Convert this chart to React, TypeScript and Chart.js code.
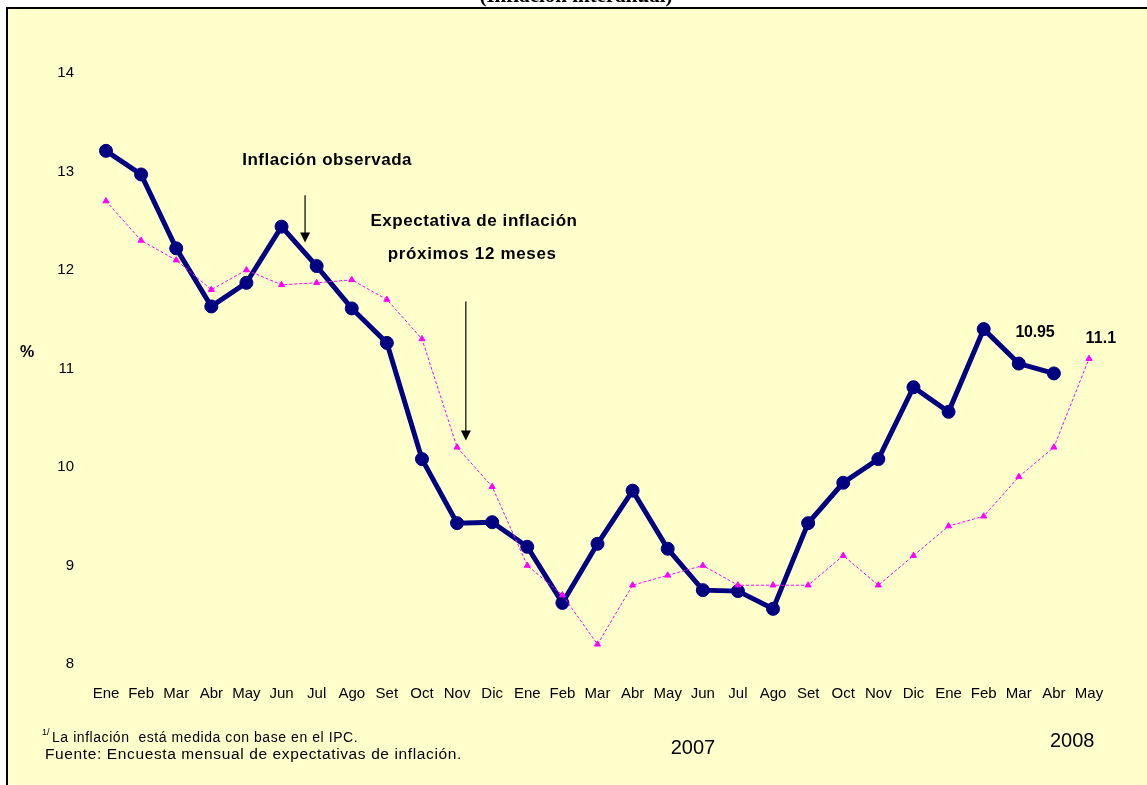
import React, { useEffect, useRef } from "react";
import { Chart, registerables } from "chart.js";

Chart.register(...registerables);

const W = 1147;
const H = 785;

const months = [
  "Ene", "Feb", "Mar", "Abr", "May", "Jun", "Jul", "Ago", "Set", "Oct", "Nov", "Dic",
  "Ene", "Feb", "Mar", "Abr", "May", "Jun", "Jul", "Ago", "Set", "Oct", "Nov", "Dic",
  "Ene", "Feb", "Mar", "Abr", "May",
];

const observed: (number | null)[] = [
  13.21, 12.97, 12.22, 11.63, 11.87, 12.44, 12.04, 11.61, 11.26, 10.08, 9.43, 9.44,
  9.19, 8.62, 9.22, 9.76, 9.17, 8.75, 8.74, 8.56, 9.43, 9.84, 10.08, 10.81,
  10.56, 11.4, 11.05, 10.95, null,
];

const expected: number[] = [
  12.7, 12.3, 12.1, 11.8, 12.0, 11.85, 11.87, 11.9, 11.7, 11.3, 10.2, 9.8,
  9.0, 8.7, 8.2, 8.8, 8.9, 9.0, 8.8, 8.8, 8.8, 9.1, 8.8, 9.1,
  9.4, 9.5, 9.9, 10.2, 11.1,
];

const yMin = 8;
const yMax = 14;

const titleText = "(Inflación interanual)";
const observedLabel = "Inflación observada";
const expectedLabel1 = "Expectativa de inflación";
const expectedLabel2 = "próximos 12 meses";
const lastObservedLabel = "10.95";
const lastExpectedLabel = "11.1";
const yearLabels = ["2007", "2008"];
const footnote1 = "La inflación  está medida con base en el IPC.";
const footnote2 = "Fuente: Encuesta mensual de expectativas de inflación.";

const SANS = "'Liberation Sans', Arial, sans-serif";

function fitText(
  ctx: CanvasRenderingContext2D,
  text: string,
  cx: number,
  cy: number,
  width: number,
  font: string
) {
  ctx.font = font;
  (ctx as any).letterSpacing = "0px";
  const w = ctx.measureText(text).width;
  const ls = (width - w) / Math.max(1, text.length);
  (ctx as any).letterSpacing = ls.toFixed(2) + "px";
  ctx.textAlign = "left";
  ctx.textBaseline = "middle";
  ctx.fillText(text, cx - width / 2, cy);
  (ctx as any).letterSpacing = "0px";
}

function arrow(ctx: CanvasRenderingContext2D, x: number, y1: number, y2: number) {
  ctx.beginPath();
  ctx.moveTo(x, y1);
  ctx.lineTo(x, y2 - 8);
  ctx.lineWidth = 1.2;
  ctx.strokeStyle = "#000";
  ctx.stroke();
  ctx.beginPath();
  ctx.moveTo(x - 5, y2 - 10);
  ctx.lineTo(x + 5, y2 - 10);
  ctx.lineTo(x, y2);
  ctx.closePath();
  ctx.fillStyle = "#000";
  ctx.fill();
}

const decor = {
  id: "decor",
  beforeDraw(chart: any) {
    const ctx: CanvasRenderingContext2D = chart.ctx;
    ctx.save();
    ctx.fillStyle = "#ffffff";
    ctx.fillRect(0, 0, W, H);
    ctx.fillStyle = "#FFFFCC";
    ctx.fillRect(7, 8, W, H);
    ctx.strokeStyle = "#000";
    ctx.lineWidth = 2;
    ctx.strokeRect(7, 8, W + 20, H + 20);
    ctx.fillStyle = "#000";
    ctx.font = "bold 21px 'Liberation Serif', 'Times New Roman', serif";
    ctx.textAlign = "center";
    ctx.textBaseline = "alphabetic";
    ctx.fillText(titleText, 576, 2);
    ctx.restore();
  },
  afterDatasetsDraw(chart: any) {
    const ctx: CanvasRenderingContext2D = chart.ctx;
    const xs = chart.scales.x;
    const ys = chart.scales.y;
    const px = (i: number) => xs.getPixelForValue(i);
    const py = (v: number) => ys.getPixelForValue(v);
    ctx.save();
    ctx.fillStyle = "#000";
    const bold = `bold 17px ${SANS}`;
    fitText(ctx, observedLabel, px(6.3), py(13.11), 170, bold);
    arrow(ctx, px(5.67), py(12.76), py(12.28));
    fitText(ctx, expectedLabel1, px(10.48), py(12.49), 207, bold);
    fitText(ctx, expectedLabel2, px(10.43), py(12.16), 169, bold);
    arrow(ctx, px(10.25), py(11.68), py(10.27));
    fitText(ctx, lastObservedLabel, px(26.46), py(11.36), 39, `bold 16px ${SANS}`);
    fitText(ctx, lastExpectedLabel, px(28.34), py(11.3), 31, `bold 16px ${SANS}`);

    // axis unit
    ctx.fillStyle = "#000";
    ctx.font = `bold 16px ${SANS}`;
    ctx.textAlign = "center";
    ctx.textBaseline = "middle";
    ctx.fillText("%", 27, py(11.16));

    // years
    ctx.font = `20px ${SANS}`;
    ctx.fillText(yearLabels[0], px(16.72), 748);
    ctx.fillText(yearLabels[1], px(27.52), 741);

    // footnotes
    ctx.font = `9px ${SANS}`;
    ctx.textAlign = "left";
    ctx.fillText("1/", 42, 733);
    fitText(ctx, footnote1, 52 + 153, 738, 306, `14px ${SANS}`);
    fitText(ctx, footnote2, 45 + 208.5, 755, 417, `15.5px ${SANS}`);
    ctx.restore();
  },
};

export default function App() {
  const ref = useRef<HTMLCanvasElement | null>(null);

  useEffect(() => {
    if (!ref.current) return;
    const chart = new Chart(ref.current, {
      type: "line",
      data: {
        labels: months,
        datasets: [
          {
            label: "Expectativa de inflación",
            data: expected,
            borderColor: "#FF00FF",
            backgroundColor: "#FF00FF",
            borderWidth: 1,
            borderDash: [3, 2],
            pointStyle: "triangle",
            pointRadius: 3.5,
            pointBorderWidth: 1,
            pointBackgroundColor: "#FF00FF",
            pointBorderColor: "#FF00FF",
            tension: 0,
            fill: false,
          },
          {
            label: "Inflación observada",
            data: observed,
            borderColor: "#000080",
            backgroundColor: "#000080",
            borderWidth: 5,
            pointStyle: "circle",
            pointRadius: 6.5,
            pointBorderWidth: 1,
            pointBackgroundColor: "#000080",
            pointBorderColor: "#000080",
            tension: 0,
            fill: false,
          },
        ],
      },
      options: {
        animation: false,
        responsive: false,
        devicePixelRatio: 1,
        clip: false as any,
        events: [],
        layout: { padding: { top: 73, right: 58, bottom: 0, left: 0 } },
        plugins: {
          legend: { display: false },
          tooltip: { enabled: false },
          title: { display: false },
        },
        scales: {
          x: {
            type: "category",
            offset: false,
            grid: { display: false, drawTicks: false },
            border: { display: false },
            ticks: {
              autoSkip: false,
              maxRotation: 0,
              minRotation: 0,
              padding: 21,
              color: "#000",
              font: { family: SANS, size: 15 },
            },
            afterFit(scale: any) {
              scale.height = 121;
            },
          },
          y: {
            type: "linear",
            min: yMin,
            max: yMax,
            grid: { display: false, drawTicks: false },
            border: { display: false },
            ticks: {
              stepSize: 1,
              padding: 32,
              color: "#000",
              font: { family: SANS, size: 15 },
            },
            afterFit(scale: any) {
              scale.width = 106;
            },
          },
        },
      },
      plugins: [decor],
    } as any);
    return () => chart.destroy();
  }, []);

  return (
    <div style={{ position: "absolute", left: 0, top: 0, width: W, height: H }}>
      <canvas ref={ref} width={W} height={H} style={{ display: "block", width: W, height: H }} />
    </div>
  );
}
